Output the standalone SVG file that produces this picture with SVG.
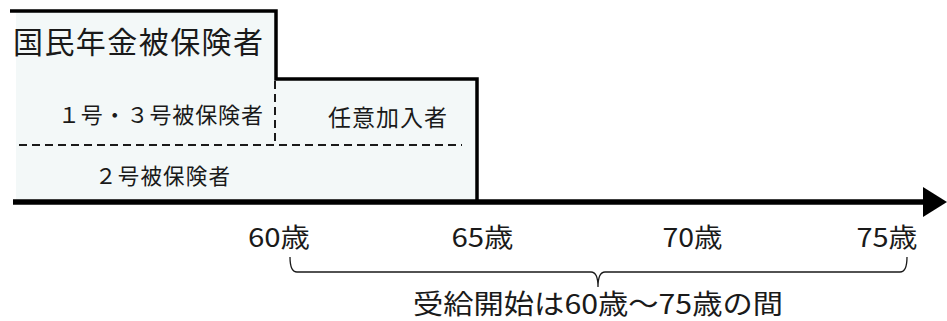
<svg xmlns="http://www.w3.org/2000/svg" width="947" height="321" viewBox="0 0 947 321">
<style>
text{font-family:"Noto Sans CJK JP","Noto Sans",sans-serif;fill:#1a1a1a}
.age{font-size:26px;text-anchor:middle}
.dash{stroke:#1a1a1a;stroke-width:2;stroke-dasharray:8 5;fill:none}
.thick{stroke:#000;fill:none}
</style>
<g id="area">
<path d="M16,11 H275 V79 H477 V203 H16 Z" fill="#f3f8f8"/>
<path class="thick" d="M10,11 H276 V79 H477 V203" stroke-width="3.5"/>
</g>
<g id="connectors">
<line class="dash" x1="275" y1="81" x2="275" y2="145"/>
<line class="dash" x1="19" y1="145" x2="462" y2="145"/>
<line x1="13" y1="202" x2="926" y2="202" stroke="#000" stroke-width="5.5"/>
<polygon points="923,187 947,202 923,217" fill="#000"/>
<path d="M290,257 Q290,272 297,272 L591,272 Q598,272 598,287 Q598,272 605,272 L900,272 Q907,272 907,257" fill="none" stroke="#1a1a1a" stroke-width="1.3"/>
</g>
<g id="title"><text x="13" y="53" font-size="30" textLength="250" lengthAdjust="spacing">国民年金被保険者</text></g>
<g id="n13"><text x="58" y="123" font-size="22" textLength="205" lengthAdjust="spacing">１号・３号被保険者</text></g>
<g id="n2"><text x="95" y="184" font-size="21.5" textLength="135" lengthAdjust="spacing">２号被保険者</text></g>
<g id="nin"><text x="328" y="126" font-size="23" textLength="119" lengthAdjust="spacing">任意加入者</text></g>
<g id="ages">
<text class="age" x="279" y="247" textLength="62" lengthAdjust="spacingAndGlyphs">60歳</text>
<text class="age" x="482.5" y="247" textLength="62" lengthAdjust="spacingAndGlyphs">65歳</text>
<text class="age" x="692.5" y="247" textLength="60" lengthAdjust="spacingAndGlyphs">70歳</text>
<text class="age" x="887" y="247" textLength="61" lengthAdjust="spacingAndGlyphs">75歳</text>
</g>
<g id="note"><text x="413" y="314" font-size="27" textLength="370" lengthAdjust="spacingAndGlyphs">受給開始は60歳～75歳の間</text></g>
</svg>
